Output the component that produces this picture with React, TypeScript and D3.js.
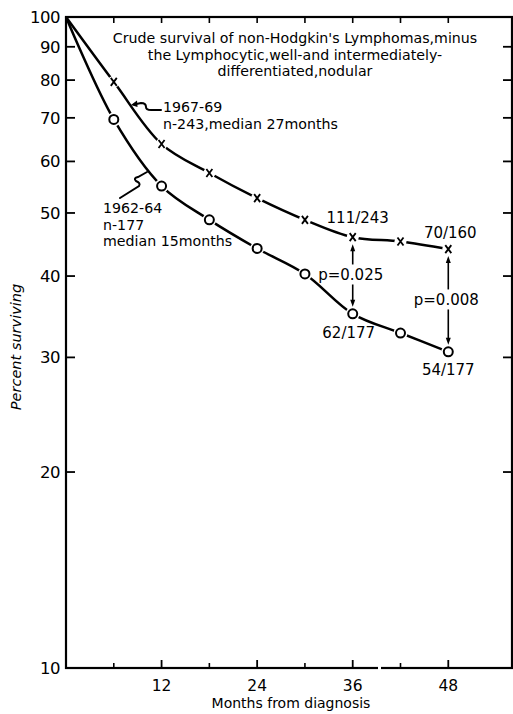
import * as d3 from 'd3'

const months = [0, 6, 12, 18, 24, 30, 36, 42, 48]
const survival6769 = [100, 79.5, 63.8, 57.6, 52.7, 48.8, 45.9, 45.2, 44.0]
const survival6264 = [100, 69.6, 55.0, 48.8, 44.1, 40.3, 35.0, 32.7, 30.6]

const yTicks = [10, 20, 30, 40, 50, 60, 70, 80, 90, 100]
const xMajor = [12, 24, 36, 48]
const xMinor = [6, 18, 30, 42]
const xTop = [6, 12, 18, 24, 30, 36, 42, 48]

const titleLines = [
  "Crude survival of non-Hodgkin's Lymphomas,minus",
  'the Lymphocytic,well-and intermediately-',
  'differentiated,nodular',
]
const label6769 = ['1967-69', 'n-243,median 27months']
const label6264 = ['1962-64', 'n-177', 'median 15months']

const W = 513
const H = 714
const FONT = '"DejaVu Sans", sans-serif'

export default function App() {
  const x = d3.scaleLinear().domain([0, 56]).range([66, 512])
  const y = d3.scaleLog().domain([10, 100]).range([668, 17])

  const line = d3
    .line<number>()
    .x((_, i) => x(months[i]))
    .y((d) => y(d))
    .curve(d3.curveCatmullRom.alpha(0.5))

  const pts = (vals: number[]) => vals.map((v, i) => ({ m: months[i], v })).filter((d) => d.m > 0)

  // arrow between the two curves at a given month, p-value text in the middle
  const pArrow = (m: number, label: string) => {
    const i = months.indexOf(m)
    const cx = x(m)
    const top = y(survival6769[i]) + 7
    const bot = y(survival6264[i]) - 7
    const mid = (top + bot) / 2
    return (
      <g key={label}>
        <line x1={cx} x2={cx} y1={top + 4} y2={mid - 11} stroke="#000" strokeWidth={1.6} />
        <line x1={cx} x2={cx} y1={mid + 9} y2={bot - 4} stroke="#000" strokeWidth={1.6} />
        <path d={`M${cx},${top} l-2.5,7 h5 z`} fill="#000" />
        <path d={`M${cx},${bot} l-2.5,-7 h5 z`} fill="#000" />
        <text x={cx - 2} y={mid + 5} textAnchor="middle" fontSize={15}>{label}</text>
      </g>
    )
  }

  const i36 = months.indexOf(36)
  const i48 = months.indexOf(48)

  return (
    <svg width={W} height={H} viewBox={`0 0 ${W} ${H}`} style={{ position: 'absolute', left: 0, top: 0, background: '#fff' }} fontFamily={FONT}>
      <rect width={W} height={H} fill="#fff" />

      {/* frame */}
      <rect x={x(0)} y={y(100)} width={x(56) - x(0)} height={y(10) - y(100)} fill="none" stroke="#000" strokeWidth={2.2} />
      {/* small break in the bottom axis, as in the print */}
      <line x1={378} x2={381} y1={y(10)} y2={y(10)} stroke="#fff" strokeWidth={4} />

      {/* left + right ticks */}
      {yTicks.filter((t) => t > 10 && t < 100).map((t) => (
        <g key={t}>
          <line x1={x(0)} x2={x(0) + 9} y1={y(t)} y2={y(t)} stroke="#000" strokeWidth={1.8} />
          <line x1={x(56)} x2={x(56) - 9} y1={y(t)} y2={y(t)} stroke="#000" strokeWidth={1.8} />
        </g>
      ))}
      {yTicks.map((t) => (
        <text key={t} x={60} y={y(t) + 6} textAnchor="end" fontSize={16.5} letterSpacing={-0.5}>{t}</text>
      ))}

      {/* bottom + top ticks */}
      {xMajor.map((t) => (
        <g key={t}>
          <line x1={x(t)} x2={x(t)} y1={y(10)} y2={y(10) - 8} stroke="#000" strokeWidth={1.8} />
          <text x={x(t)} y={691} textAnchor="middle" fontSize={15.5}>{t}</text>
        </g>
      ))}
      {xMinor.map((t) => (
        <line key={t} x1={x(t)} x2={x(t)} y1={y(10)} y2={y(10) - 5} stroke="#000" strokeWidth={1.6} />
      ))}
      {xTop.map((t) => (
        <line key={t} x1={x(t)} x2={x(t)} y1={y(100)} y2={y(100) + 6} stroke="#000" strokeWidth={1.6} />
      ))}

      <text x={291} y={708} textAnchor="middle" fontSize={14}>Months from diagnosis</text>
      <text transform="translate(21,347) rotate(-90)" textAnchor="middle" fontSize={14.5} fontStyle="italic">Percent surviving</text>

      {/* title */}
      {titleLines.map((l, i) => (
        <text key={i} x={295} y={43 + i * 16.6} textAnchor="middle" fontSize={14.2}>{l}</text>
      ))}

      {/* curves */}
      <path d={line(survival6769) ?? ''} fill="none" stroke="#000" strokeWidth={2.5} />
      <path d={line(survival6264) ?? ''} fill="none" stroke="#000" strokeWidth={2.5} />

      {/* markers, with small white gaps in the line */}
      {pts(survival6769).map((d) => (
        <g key={`x${d.m}`} transform={`translate(${x(d.m)},${y(d.v)})`}>
          <circle r={6} fill="#fff" />
          <path d="M-3,-4 L3,4 M3,-4 L-3,4" stroke="#000" strokeWidth={1.8} />
        </g>
      ))}
      {pts(survival6264).map((d) => (
        <g key={`o${d.m}`} transform={`translate(${x(d.m)},${y(d.v)})`}>
          <circle r={7} fill="#fff" />
          <circle r={4.5} fill="#fff" stroke="#000" strokeWidth={2} />
        </g>
      ))}

      {/* series labels with squiggle pointers */}
      <path d="M134,104.5 L141,103 q5,0 5,4 q0,3 5,3 L161,110" fill="none" stroke="#000" strokeWidth={2} strokeLinecap="round" />
      <path d="M131,105 l6,-4.5 l0.5,6.5 z" fill="#000" />
      {label6769.map((l, i) => (
        <text key={l} x={163} y={112 + i * 16.6} fontSize={14.2}>{l}</text>
      ))}

      <path d="M120,198 L139,186 q2,-3 -3,-5 q-3,-3 2,-4 L147,172" fill="none" stroke="#000" strokeWidth={2} strokeLinecap="round" />
      {label6264.map((l, i) => (
        <text key={l} x={103} y={213 + i * 16.6} fontSize={14.2}>{l}</text>
      ))}

      {/* counts */}
      <text x={x(36) + 5} y={y(survival6769[i36]) - 14} textAnchor="middle" fontSize={15}>111/243</text>
      <text x={x(48) + 2} y={y(survival6769[i48]) - 11} textAnchor="middle" fontSize={15}>70/160</text>
      <text x={x(36) - 4} y={y(survival6264[i36]) + 24} textAnchor="middle" fontSize={15}>62/177</text>
      <text x={x(48)} y={y(survival6264[i48]) + 23} textAnchor="middle" fontSize={15}>54/177</text>

      {pArrow(36, 'p=0.025')}
      {pArrow(48, 'p=0.008')}
    </svg>
  )
}
